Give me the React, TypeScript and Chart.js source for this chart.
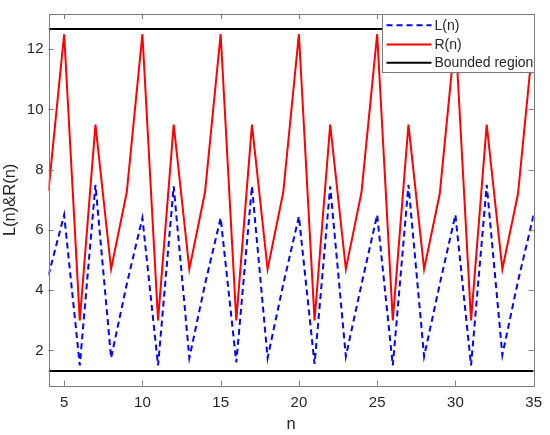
import React, { useEffect, useRef } from "react";
import { Chart, registerables } from "chart.js";

Chart.register(...registerables);

const nValues = [4, 5, 6, 7, 8, 9, 10, 11, 12, 13, 14, 15, 16, 17, 18, 19, 20, 21, 22, 23, 24, 25, 26, 27, 28, 29, 30, 31, 32, 33, 34, 35];
const lValues = [4.5, 6.5, 1.5, 7.5, 1.75, 4.2, 6.4, 1.5, 7.45, 1.75, 4.2, 6.4, 1.6, 7.45, 1.75, 4.2, 6.45, 1.55, 7.45, 1.8, 4.2, 6.5, 1.5, 7.5, 1.8, 4.2, 6.5, 1.5, 7.5, 1.85, 4.3, 6.5];
const rValues = [7.3, 12.5, 3.0, 9.5, 4.7, 7.25, 12.5, 3.0, 9.5, 4.7, 7.25, 12.5, 3.0, 9.5, 4.7, 7.25, 12.5, 3.0, 9.5, 4.7, 7.25, 12.5, 3.0, 9.5, 4.7, 7.2, 12.5, 3.0, 9.5, 4.7, 7.2, 12.5];
const upperBound = 12.67;
const lowerBound = 1.32;
const boundX = [4, 35];
const xTicks = [5, 10, 15, 20, 25, 30, 35];
const yTicks = [2, 4, 6, 8, 10, 12];
const legendLabels = ["L(n)", "R(n)", "Bounded region"];

const FONT = "'Liberation Sans', Arial, Helvetica, sans-serif";
const TEXT = "#262626";
const AXIS = "#7a7a7a";

const framePlugin = {
  id: "matlabFrame",
  afterDatasetsDraw(chart: any) {
    const { ctx, chartArea } = chart;
    const { left, right, top, bottom } = chartArea;
    const xs = chart.scales.x;
    const ys = chart.scales.y;
    ctx.save();
    ctx.strokeStyle = AXIS;
    ctx.lineWidth = 1;
    ctx.beginPath();
    ctx.rect(Math.round(left) + 0.5, Math.round(top) + 0.5, Math.round(right - left), Math.round(bottom - top));
    ctx.stroke();
    const tl = 5;
    ctx.beginPath();
    xTicks.forEach((v) => {
      const px = Math.round(xs.getPixelForValue(v)) + 0.5;
      ctx.moveTo(px, bottom);
      ctx.lineTo(px, bottom - tl);
      ctx.moveTo(px, top);
      ctx.lineTo(px, top + tl);
    });
    yTicks.forEach((v) => {
      const py = Math.round(ys.getPixelForValue(v)) + 0.5;
      ctx.moveTo(left, py);
      ctx.lineTo(left + tl, py);
      ctx.moveTo(right, py);
      ctx.lineTo(right - tl, py);
    });
    ctx.stroke();

    // legend box
    const w = 152;
    const h = 58;
    const lx = Math.round(right - w) + 0.5;
    const ly = Math.round(top) + 0.5;
    ctx.fillStyle = "#ffffff";
    ctx.fillRect(lx, ly, w, h);
    ctx.strokeStyle = AXIS;
    ctx.strokeRect(lx, ly, w, h);
    ctx.font = `14px ${FONT}`;
    ctx.textBaseline = "middle";
    ctx.textAlign = "left";
    const rows = [10.7, 30, 48.3];
    chart.data.datasets.slice(0, 3).forEach((ds: any, i: number) => {
      const y = ly + rows[i];
      ctx.strokeStyle = ds.borderColor;
      ctx.lineWidth = 2;
      ctx.setLineDash(ds.borderDash || []);
      ctx.beginPath();
      ctx.moveTo(lx + 4, y);
      ctx.lineTo(lx + 49, y);
      ctx.stroke();
      ctx.setLineDash([]);
      ctx.fillStyle = TEXT;
      ctx.fillText(legendLabels[i], lx + 52, y + 0.5);
    });
    ctx.restore();
  },
};

export default function App() {
  const ref = useRef<HTMLCanvasElement | null>(null);

  useEffect(() => {
    document.body.style.margin = "0";
    if (!ref.current) return;
    const lData = nValues.map((n, i) => ({ x: n, y: lValues[i] }));
    const rData = nValues.map((n, i) => ({ x: n, y: rValues[i] }));
    const upData = boundX.map((x) => ({ x, y: upperBound }));
    const lowData = boundX.map((x) => ({ x, y: lowerBound }));
    const chart = new Chart(ref.current, {
      type: "line",
      data: {
        datasets: [
          { label: legendLabels[0], data: lData, borderColor: "#0000ff", borderWidth: 2, borderDash: [6, 4], pointRadius: 0, fill: false, tension: 0 },
          { label: legendLabels[1], data: rData, borderColor: "#ff0000", borderWidth: 2, pointRadius: 0, fill: false, tension: 0 },
          { label: legendLabels[2], data: upData, borderColor: "#000000", borderWidth: 2, pointRadius: 0, fill: false },
          { label: "lower", data: lowData, borderColor: "#000000", borderWidth: 2, pointRadius: 0, fill: false },
        ],
      },
      options: {
        animation: false,
        responsive: true,
        maintainAspectRatio: false,
        layout: { padding: { top: 5, right: 11.5, left: 0, bottom: 0 } },
        plugins: { legend: { display: false }, tooltip: { enabled: false } },
        scales: {
          x: {
            type: "linear",
            min: 4,
            max: 35,
            grid: { display: false, drawTicks: false },
            border: { display: false },
            afterFit: (s: any) => { s.height = 49.3; },
            afterBuildTicks: (s: any) => { s.ticks = xTicks.map((v) => ({ value: v })); },
            ticks: { color: TEXT, font: { family: FONT, size: 15 }, padding: 8, maxRotation: 0, autoSkip: false },
            title: { display: true, text: "n", color: TEXT, font: { family: FONT, size: 16.5 }, padding: { top: 0, bottom: 1 } },
          },
          y: {
            type: "linear",
            min: 0.83,
            max: 13.17,
            grid: { display: false, drawTicks: false },
            border: { display: false },
            afterFit: (s: any) => { s.width = 48.5; },
            afterBuildTicks: (s: any) => { s.ticks = yTicks.map((v) => ({ value: v })); },
            ticks: { color: TEXT, font: { family: FONT, size: 15 }, padding: 5, autoSkip: false },
            title: { display: true, text: "L(n)&R(n)", color: TEXT, font: { family: FONT, size: 16.5 }, padding: { top: 1, bottom: 0 } },
          },
        },
      },
      plugins: [framePlugin],
    });
    return () => chart.destroy();
  }, []);

  return (
    <div style={{ position: "relative", width: 550, height: 435, background: "#ffffff" }}>
      <canvas ref={ref} />
    </div>
  );
}
